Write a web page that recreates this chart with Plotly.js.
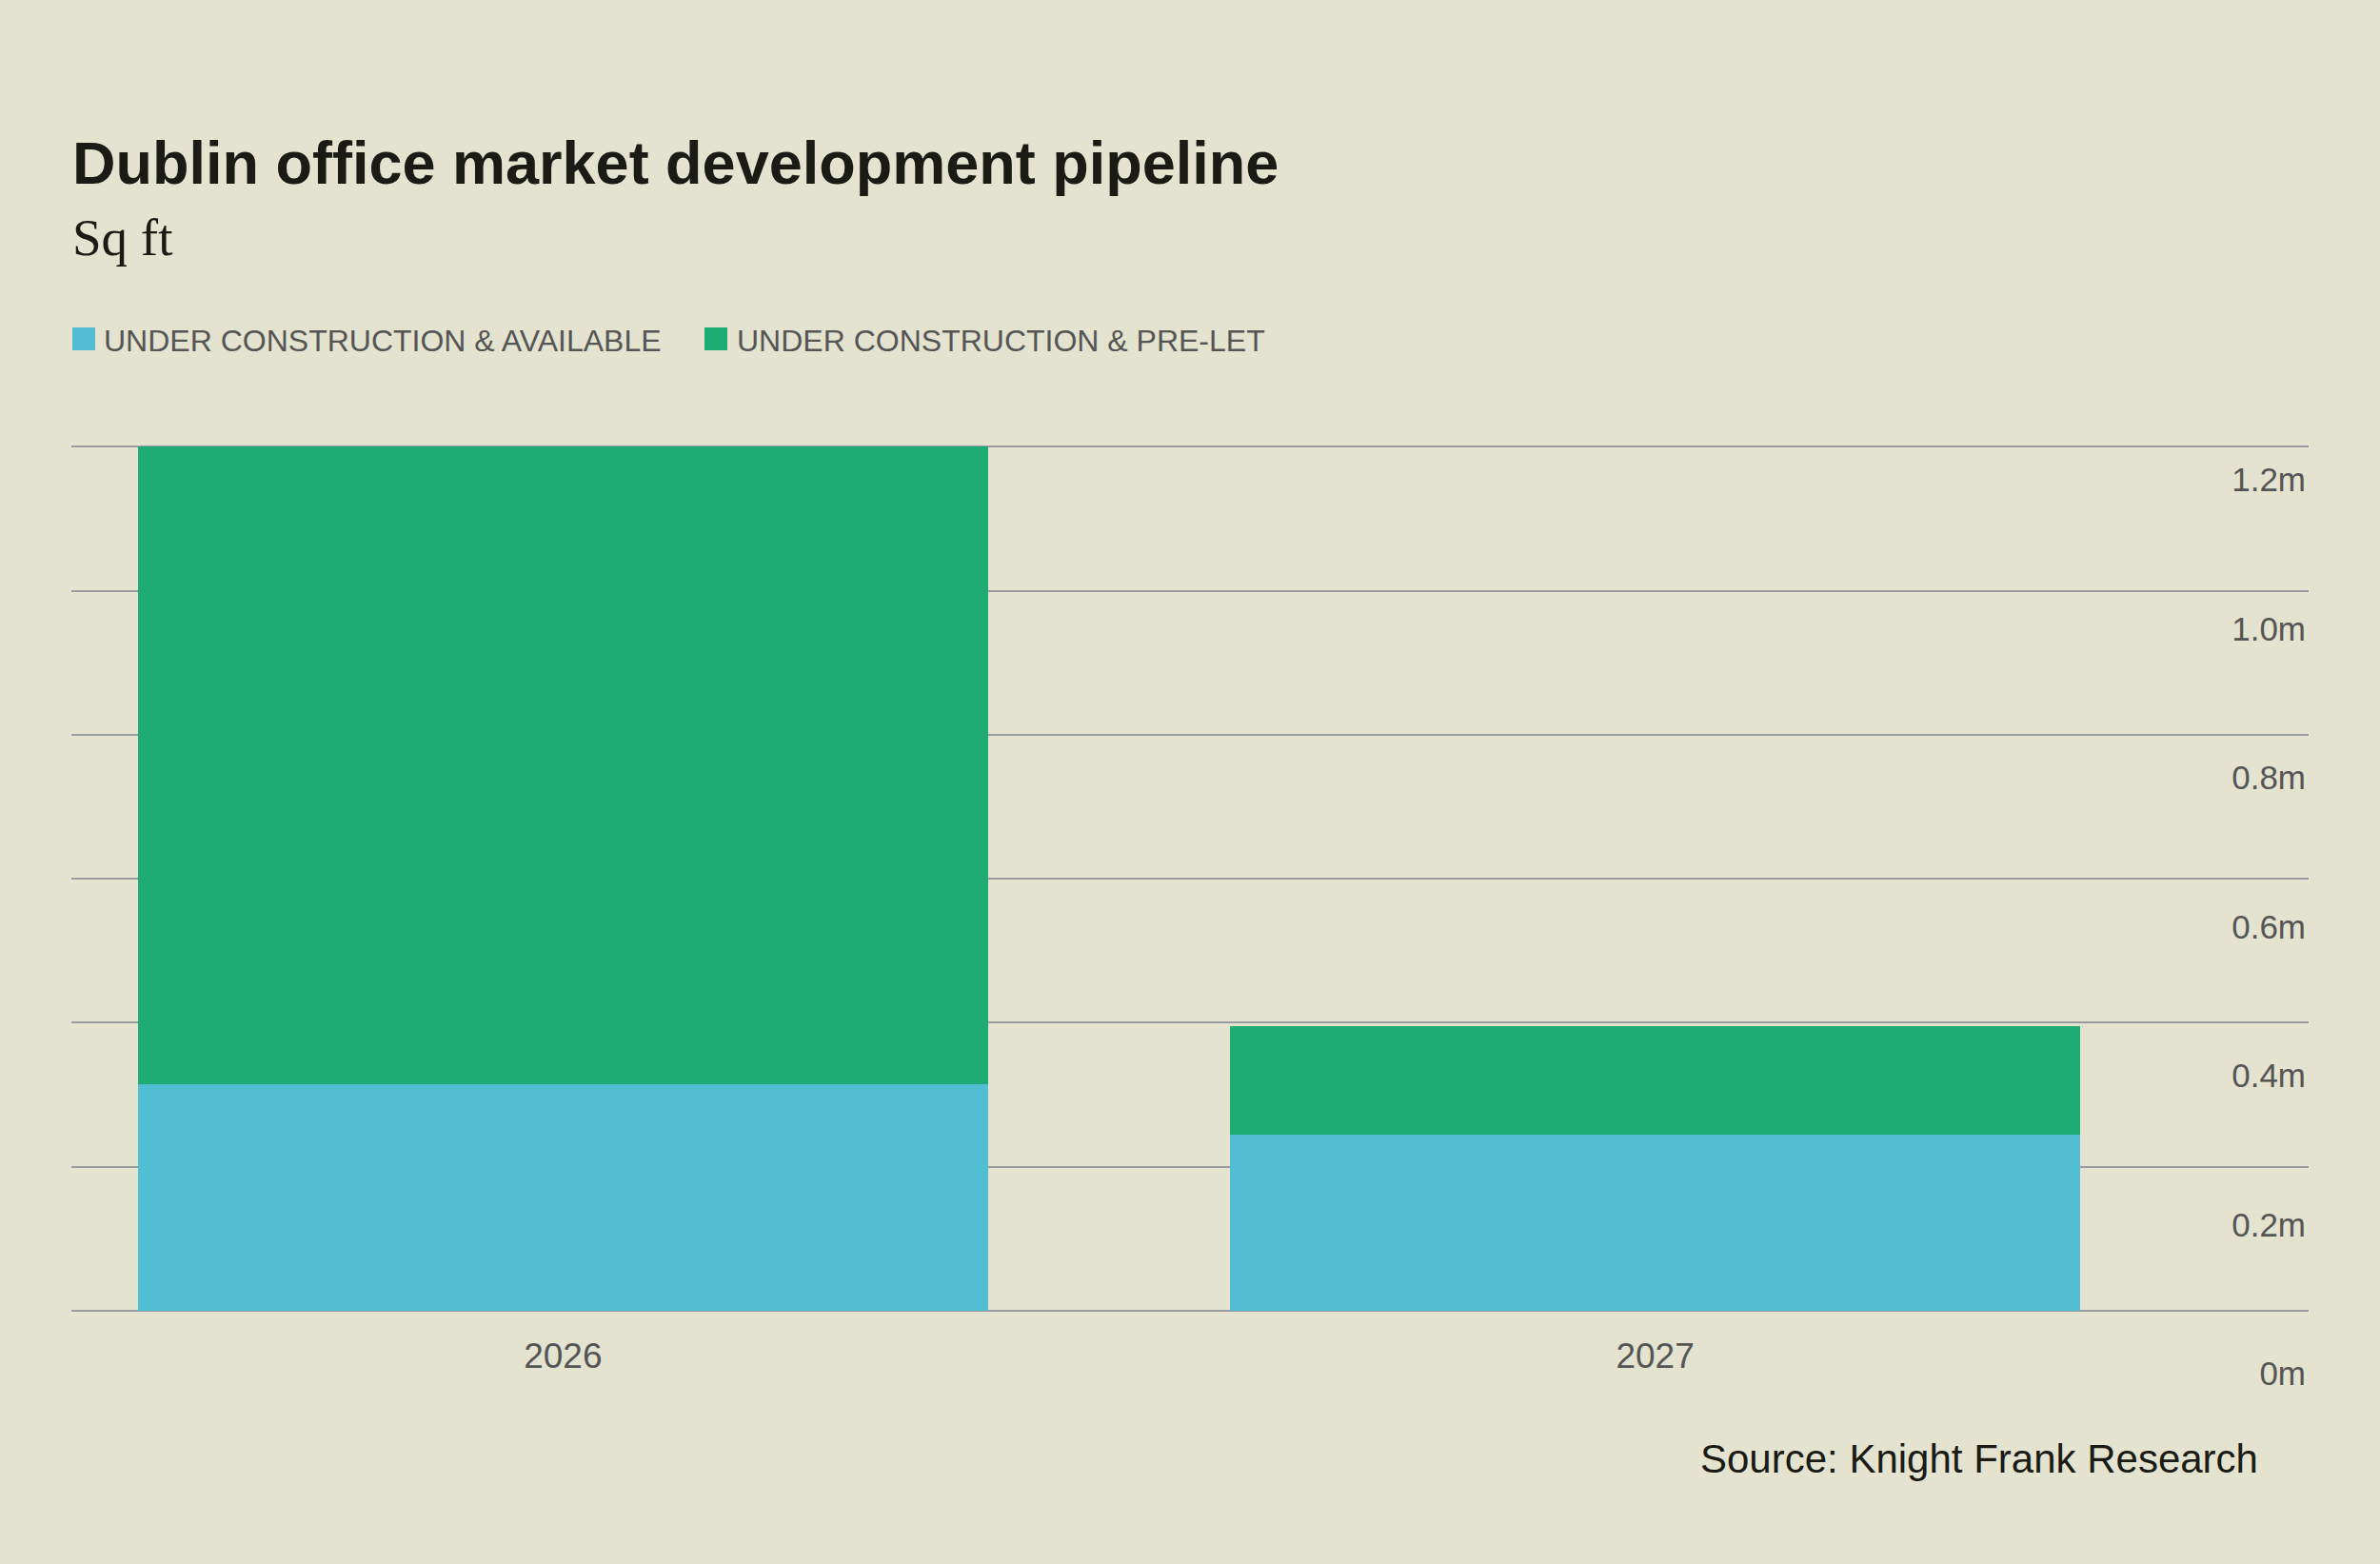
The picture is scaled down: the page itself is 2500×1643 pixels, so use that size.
<!DOCTYPE html>
<html>
<head>
<meta charset="utf-8">
<script src="https://cdn.plot.ly/plotly-3.0.1.min.js"></script>
<style>
  html, body { margin: 0; padding: 0; background: #e3e3cf; }
  #plot { width: 2500px; height: 1643px; }
</style>
</head>
<body>
<div id="plot"></div>
<script>
// Values in millions of sq ft
const YEARS = ['2026', '2027'];
const AVAILABLE = [0.315, 0.245];
const PRE_LET = [0.885, 0.150];
const Y_TICKS = [0, 0.2, 0.4, 0.6, 0.8, 1.0, 1.2];
const Y_TICK_TEXT = ['0m', '0.2m', '0.4m', '0.6m', '0.8m', '1.0m', '1.2m'];
const SERIES_NAMES = ['UNDER CONSTRUCTION & AVAILABLE', 'UNDER CONSTRUCTION & PRE-LET'];

const W = 2500, H = 1643;
const M = {l: 75, r: 75, t: 440, b: 150};
const BG = '#e3e3cf';
const BLUE = '#52bed4';
const GREEN = '#1fab74';
const GRID = '#989ca0';
const LABEL = '#555555';
const INK = '#1b1b16';
const SANS = 'Liberation Sans, Arial, sans-serif';

function paperX(px) { return (px - M.l) / (W - M.l - M.r); }
function paperY(py) { return (H - M.b - py) / (H - M.t - M.b); }

// value range so that 0 lands on zeroPx and topVal on topPx
function rangeFor(zeroPx, topPx, topVal) {
  let slope = (zeroPx - topPx) / topVal;
  return [-(H - M.b - zeroPx) / slope, (zeroPx - M.t) / slope];
}

const traces = [
  {
    type: 'bar', name: SERIES_NAMES[0], x: YEARS, y: AVAILABLE,
    marker: {color: BLUE, line: {width: 0}}, width: 0.778, hoverinfo: 'skip'
  },
  {
    type: 'bar', name: SERIES_NAMES[1], x: YEARS, y: PRE_LET,
    marker: {color: GREEN, line: {width: 0}}, width: 0.778, hoverinfo: 'skip'
  },
  // invisible trace so the right-hand label axis gets drawn
  {
    type: 'scatter', mode: 'markers', x: YEARS, y: AVAILABLE, yaxis: 'y2',
    marker: {opacity: 0}, hoverinfo: 'skip', showlegend: false
  }
];

function legendItem(squareX, textX, color, text) {
  return [
    {
      type: 'rect', xref: 'paper', yref: 'paper',
      x0: paperX(squareX), x1: paperX(squareX + 24),
      y0: paperY(368), y1: paperY(344),
      fillcolor: color, line: {width: 0}
    },
    {
      xref: 'paper', yref: 'paper', x: paperX(textX), y: paperY(358.5),
      xanchor: 'left', yanchor: 'middle', showarrow: false, text: text,
      font: {family: SANS, size: 32, color: LABEL}
    }
  ];
}

const leg1 = legendItem(76, 107, BLUE, SERIES_NAMES[0]);
const leg2 = legendItem(740, 772, GREEN, SERIES_NAMES[1]);

const layout = {
  width: W, height: H,
  margin: M,
  paper_bgcolor: BG, plot_bgcolor: BG,
  showlegend: false,
  barmode: 'stack',
  title: {
    text: '<b>Dublin office market development pipeline</b>',
    xref: 'container', yref: 'container', x: 76 / W, xanchor: 'left',
    y: 1 - 170.7 / H, yanchor: 'middle',
    font: {family: SANS, size: 63, color: INK}
  },
  xaxis: {
    type: 'category', range: [-0.4501, 1.5983],
    anchor: 'free', position: paperY(1376.9),
    showgrid: false, zeroline: false, showline: false,
    ticks: 'outside', ticklen: 15, tickcolor: 'rgba(0,0,0,0)',
    tickfont: {family: SANS, size: 37, color: LABEL}
  },
  yaxis: {
    domain: [0, 1], range: rangeFor(1376.9, 469.3, 1.2),
    tickvals: Y_TICKS, showticklabels: false, ticks: '',
    showgrid: true, gridcolor: GRID, gridwidth: 2,
    zeroline: false, showline: false
  },
  yaxis2: {
    overlaying: 'y', side: 'right', anchor: 'free', position: 1,
    range: rangeFor(1442.8, 503.8, 1.2),
    tickvals: Y_TICKS, ticktext: Y_TICK_TEXT,
    ticklabelposition: 'inside', ticks: '',
    showgrid: false, zeroline: false, showline: false,
    tickfont: {family: SANS, size: 35, color: LABEL}
  },
  shapes: [leg1[0], leg2[0]],
  annotations: [
    {
      xref: 'paper', yref: 'paper', x: paperX(74), y: paperY(249.4),
      xanchor: 'left', yanchor: 'middle', showarrow: false, text: 'Sq ft',
      font: {family: 'Liberation Serif, Times New Roman, serif', size: 55, color: INK}
    },
    leg1[1], leg2[1],
    {
      xref: 'paper', yref: 'paper', x: paperX(2374), y: paperY(1532.7),
      xanchor: 'right', yanchor: 'middle', showarrow: false,
      text: 'Source: Knight Frank Research',
      font: {family: SANS, size: 42, color: INK}
    }
  ]
};

Plotly.newPlot('plot', traces, layout, {displayModeBar: false, staticPlot: true});
</script>
</body>
</html>
